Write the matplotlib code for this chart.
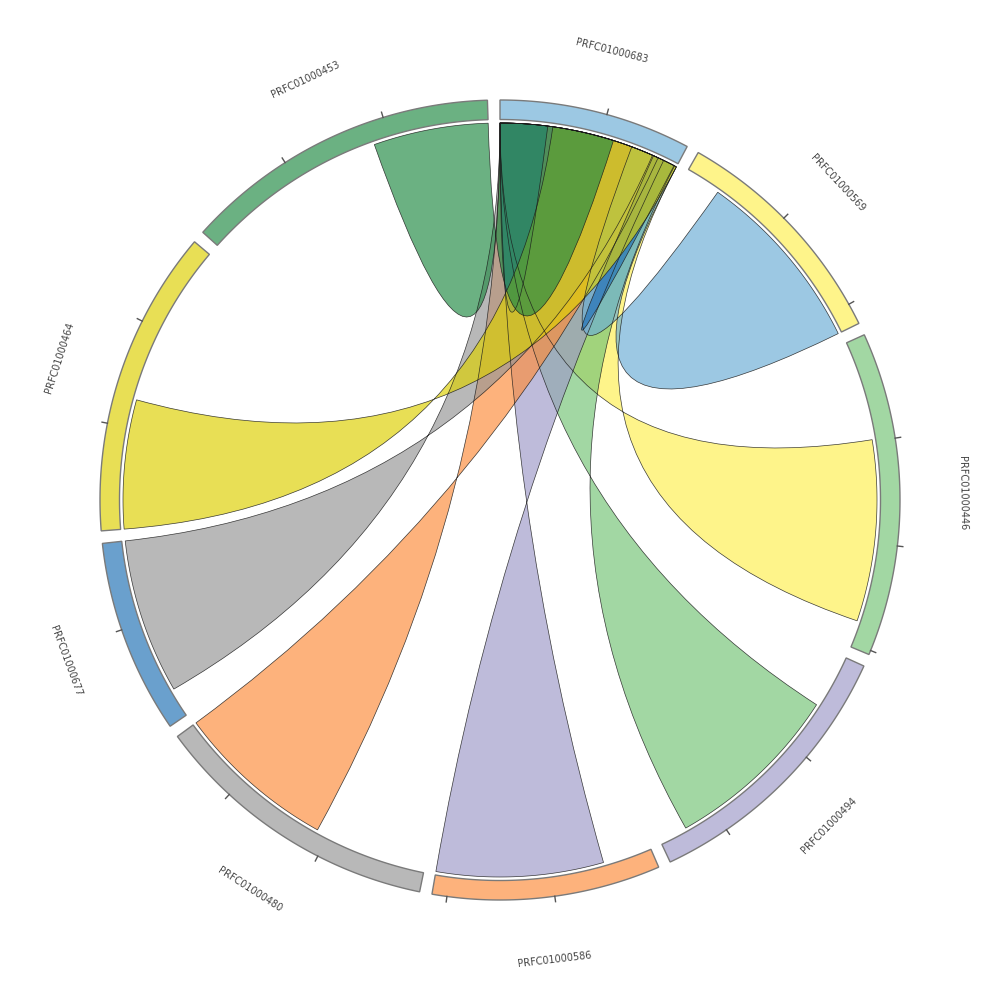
import numpy as np
import matplotlib
matplotlib.use('Agg')
import matplotlib.pyplot as plt
from matplotlib.path import Path
from matplotlib.patches import PathPatch

# ---------------- data ----------------
groups = ['PRFC01000683', 'PRFC01000569', 'PRFC01000446', 'PRFC01000494', 'PRFC01000586',
          'PRFC01000480', 'PRFC01000677', 'PRFC01000464', 'PRFC01000453']
group_sizes = [9.0, 11.0, 15.2, 13.0, 10.7, 13.6, 9.1, 14.4, 14.9]
group_colors = ['#6baed6', '#fef051', '#74c476', '#9e9ac8', '#fd8d3c',
                '#969696', '#2171b5', '#ddd002', '#238b45']

hub = 'PRFC01000683'
# ribbons listed in drawing order (wide end at the source group, other end on the hub)
rib_source = ['PRFC01000446', 'PRFC01000494', 'PRFC01000586', 'PRFC01000480',
              'PRFC01000677', 'PRFC01000569', 'PRFC01000683', 'PRFC01000683',
              'PRFC01000464', 'PRFC01000453']
rib_src_start = [4.9, 2.7, 2.4, 5.6, 1.4, 1.8, 7.75, 0.0, 0.0, 9.2]
rib_src_end = [13.9, 11.6, 10.7, 13.6, 9.1, 11.0, 8.87, 2.35, 6.4, 14.9]
rib_hub_start = [0.0, 0.0, 0.0, 0.0, 0.0, 6.6, 7.75, 0.0, 2.6, 0.0]
rib_hub_end = [9.0, 8.9, 8.3, 8.0, 7.7, 9.0, 8.87, 2.35, 9.0, 5.65]
rib_colors = ['#fef051', '#74c476', '#9e9ac8', '#fd8d3c', '#969696',
              '#6baed6', '#2171b5', '#2171b5', '#ddd002', '#238b45']
tick_step = 5

# ---------------- layout ----------------
pad_deg = 1.8
alpha = 0.67
R_rib, R_in, R_out, R_tick, R_lab = 377, 380.5, 400, 405.5, 463

n = len(groups)
k = (360 - n * pad_deg) / sum(group_sizes)
starts = {}
pos = 0.0
for g, s in zip(groups, group_sizes):
    starts[g] = pos
    pos += s * k + pad_deg


def ang(g, v):
    return starts[g] + v * k


def pt(theta, r):
    t = np.deg2rad(theta)
    return (r * np.sin(t), r * np.cos(t))


def arc_pts(a0, a1, r, num=None):
    if num is None:
        num = max(4, int(abs(a1 - a0) * 2))
    return [pt(a, r) for a in np.linspace(a0, a1, num)]


fig = plt.figure(figsize=(10, 10), dpi=100)
ax = fig.add_axes([0, 0, 1, 1])
ax.set_xlim(-500, 500)
ax.set_ylim(-500, 500)
ax.set_aspect('equal')
ax.axis('off')

# ---------------- ribbons ----------------
for src, s0v, s1v, h0v, h1v, col in zip(rib_source, rib_src_start, rib_src_end,
                                        rib_hub_start, rib_hub_end, rib_colors):
    s0, s1 = ang(src, s0v), ang(src, s1v)
    t0, t1 = ang(hub, h0v), ang(hub, h1v)
    verts, codes = [], []
    a = arc_pts(s0, s1, R_rib)
    verts += a
    codes += [Path.MOVETO] + [Path.LINETO] * (len(a) - 1)
    if src == hub and (s0v, s1v) == (h0v, h1v):
        # self ribbon: single curve back through the centre
        verts += [(0, 0), pt(s0, R_rib)]
        codes += [Path.CURVE3, Path.CURVE3]
    else:
        verts += [(0, 0), pt(t1, R_rib)]
        codes += [Path.CURVE3, Path.CURVE3]
        b = arc_pts(t1, t0, R_rib)
        verts += b[1:]
        codes += [Path.LINETO] * (len(b) - 1)
        verts += [(0, 0), pt(s0, R_rib)]
        codes += [Path.CURVE3, Path.CURVE3]
    verts.append((0, 0))
    codes.append(Path.CLOSEPOLY)
    path = Path(verts, codes)
    ax.add_patch(PathPatch(path, facecolor=col, alpha=alpha, edgecolor='none', zorder=2))
    ax.add_patch(PathPatch(path, facecolor='none', edgecolor='#1a1a1a', lw=0.5,
                           alpha=0.85, zorder=3))

# ---------------- group arcs, ticks, labels ----------------
for g, s, col in zip(groups, group_sizes, group_colors):
    a0, a1 = ang(g, 0), ang(g, s)
    outer = arc_pts(a0, a1, R_out)
    inner = arc_pts(a1, a0, R_in)
    poly = outer + inner + [outer[0]]
    codes = [Path.MOVETO] + [Path.LINETO] * (len(poly) - 2) + [Path.CLOSEPOLY]
    ax.add_patch(PathPatch(Path(poly, codes), facecolor=col, alpha=alpha,
                           edgecolor='none', zorder=4))
    ax.add_patch(PathPatch(Path(poly, codes), facecolor='none',
                           edgecolor='#7a7a7a', lw=1.0, zorder=5))
    v = tick_step
    while v <= s:
        th = ang(g, v)
        p0, p1 = pt(th, R_out), pt(th, R_tick)
        ax.plot([p0[0], p1[0]], [p0[1], p1[1]], color='#555555', lw=1.0, zorder=5)
        v += tick_step
    mid = (a0 + a1) / 2
    x, y = pt(mid, R_lab)
    rot = -mid if (mid <= 90 or mid >= 270) else 180 - mid
    ax.text(x, y, g, rotation=rot, rotation_mode='anchor', ha='center', va='center',
            fontsize=7, color='#444444', family='DejaVu Sans')

fig.savefig('out.png', dpi=100, facecolor='white')
